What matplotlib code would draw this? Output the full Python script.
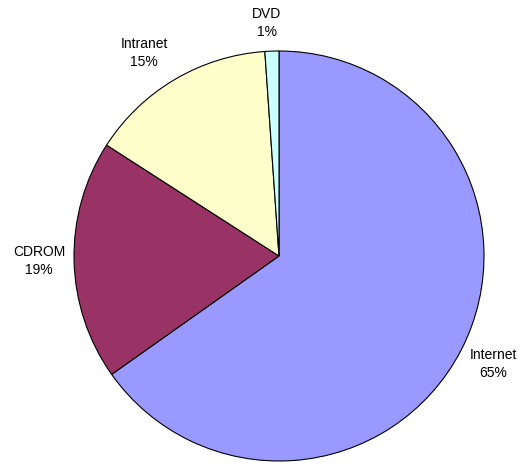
import matplotlib
matplotlib.use("Agg")
import matplotlib.pyplot as plt
import numpy as np

# Share of distribution channels
categories = ["Internet", "CDROM", "Intranet", "DVD"]
values = [65.2, 18.9, 14.8, 1.1]
colors = ["#9999FF", "#993366", "#FFFFCC", "#CCFFFF"]

plt.rcParams["font.family"] = ["Liberation Sans", "DejaVu Sans"]

fig = plt.figure(figsize=(5.25, 4.72), dpi=100)
fig.patch.set_facecolor("white")
ax = fig.add_axes([0, 0, 1, 1])

total = sum(values)
labels = [f"{c}\n{v / total * 100:.0f}%" for c, v in zip(categories, values)]

cx, cy, r = 279, 216, 205
wedges, texts = ax.pie(
    values,
    labels=labels,
    colors=colors,
    startangle=90,
    counterclock=False,
    center=(cx, cy),
    radius=r,
    labeldistance=1.16,
    wedgeprops=dict(edgecolor="black", linewidth=0.8),
    textprops=dict(fontsize=10, color="black"),
    frame=True,
)

# label placement like the spreadsheet export: slightly outside each wedge
label_dist = [1.17, 1.17, 1.19, 1.14]
angle_shift = [0.5, 0.0, 3.0, 1.0]
for w, t, d, s in zip(wedges, texts, label_dist, angle_shift):
    mid = np.deg2rad((w.theta1 + w.theta2) / 2 + s)
    t.set_position((cx + d * r * np.cos(mid), cy + d * r * np.sin(mid)))
    t.set_horizontalalignment("center")
    t.set_verticalalignment("center")
    t.set_linespacing(1.35)

ax.set_xlim(0, 525)
ax.set_ylim(0, 472)
ax.set_aspect("equal")
ax.axis("off")

fig.savefig("out.png", dpi=100, facecolor="white")
